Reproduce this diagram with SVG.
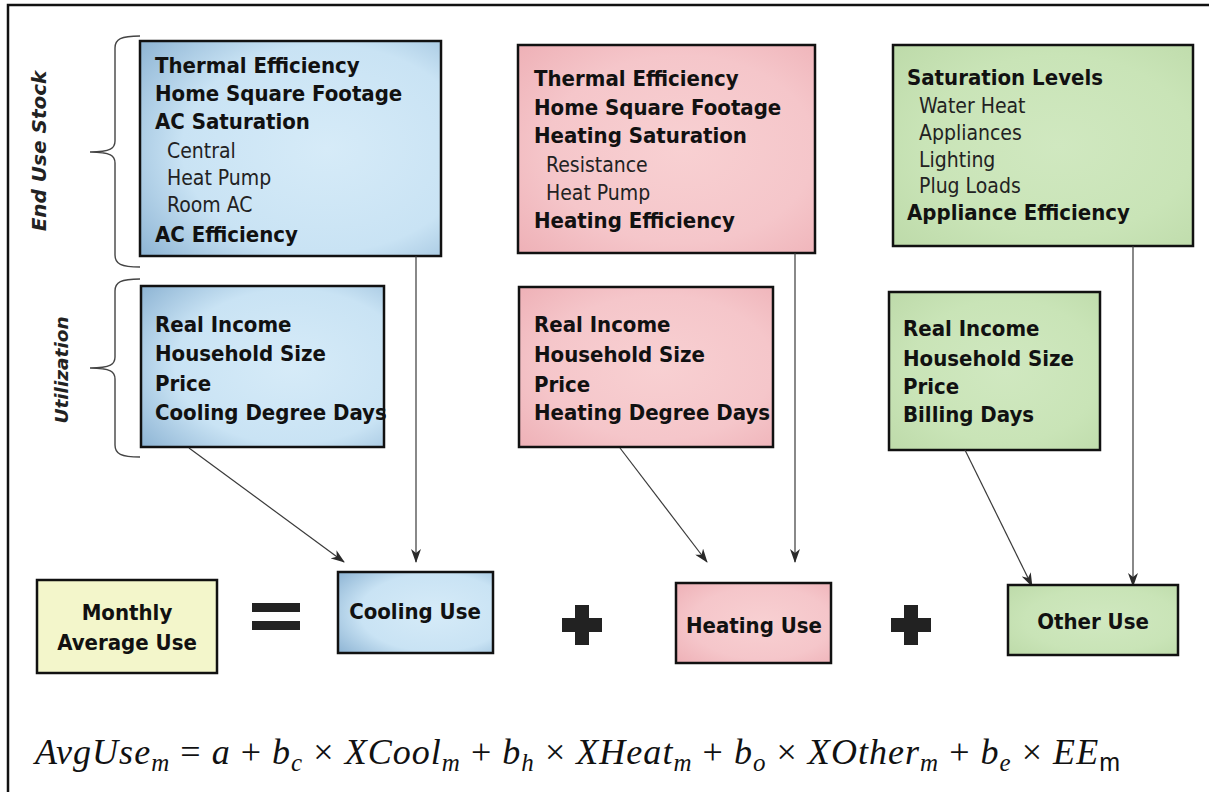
<svg xmlns="http://www.w3.org/2000/svg" width="1209" height="792" viewBox="0 0 1209 792">
<style>
.b{font-family:"DejaVu Sans Condensed","DejaVu Sans",sans-serif;font-weight:bold;font-size:22px;fill:#111}
.r{font-family:"DejaVu Sans Condensed","DejaVu Sans",sans-serif;font-size:21px;fill:#222}
.box{stroke:#111;stroke-width:2.5}
.lbl{font-family:"DejaVu Sans",Verdana,sans-serif;font-weight:bold;font-style:italic;fill:#222}
.con{stroke:#3a3a3a;stroke-width:1.2;fill:none}
.brace{stroke:#444;stroke-width:1.4;fill:none}
.f{font-family:"Liberation Serif","Times New Roman",serif;font-size:36px;font-style:italic;fill:#111}
.up{font-style:normal}
.s{font-size:25px}
</style>
<defs>
<radialGradient id="gBlue" cx="62%" cy="50%" r="80%">
<stop offset="0" stop-color="#d6ebf8"/>
<stop offset="0.6" stop-color="#c9e3f4"/>
<stop offset="1" stop-color="#8cb3d3"/>
</radialGradient>
<radialGradient id="gPink" cx="55%" cy="50%" r="75%">
<stop offset="0" stop-color="#f8d0d2"/>
<stop offset="0.6" stop-color="#f5c6ca"/>
<stop offset="1" stop-color="#eeb0b6"/>
</radialGradient>
<radialGradient id="gGreen" cx="55%" cy="50%" r="75%">
<stop offset="0" stop-color="#d0e8c0"/>
<stop offset="0.6" stop-color="#c9e4b7"/>
<stop offset="1" stop-color="#bddaa9"/>
</radialGradient>
<marker id="ah" viewBox="0 0 14 10" refX="13" refY="5" markerWidth="14" markerHeight="10" markerUnits="userSpaceOnUse" orient="auto">
<path d="M0,0 L14,5 L0,10 L4,5 Z" fill="#2a2a2a"/>
</marker>
</defs>
<rect width="1209" height="792" fill="#fff"/>
<path d="M8,792 L8,5 L1209,5" stroke="#111" stroke-width="2.5" fill="none"/>

<g id="label-enduse">
<path class="brace" d="M140,36 C121,36 115,39 115,48 L115,141 C115,148 111,152 90,152 C111,152 115,156 115,163 L115,255 C115,264 121,267 140,267"/>
<text class="lbl" font-size="20" text-anchor="middle" transform="translate(46,151) rotate(-90)">End Use Stock</text>
</g>
<g id="label-utilization">
<path class="brace" d="M140,279 C121,279 115,282 115,291 L115,357 C115,364 111,368 90,368 C111,368 115,372 115,379 L115,445 C115,454 121,457 140,457"/>
<text class="lbl" font-size="18.5" text-anchor="middle" transform="translate(68,370) rotate(-90)">Utilization</text>
</g>

<g id="cool-stock">
<rect class="box" x="140" y="41" width="301" height="215" fill="url(#gBlue)"/>
<text class="b" x="155" y="73">Thermal Efficiency</text>
<text class="b" x="155" y="101">Home Square Footage</text>
<text class="b" x="155" y="129">AC Saturation</text>
<text class="r" x="167" y="158">Central</text>
<text class="r" x="167" y="185">Heat Pump</text>
<text class="r" x="167" y="212">Room AC</text>
<text class="b" x="155" y="242">AC Efficiency</text>
</g>
<g id="heat-stock">
<rect class="box" x="518" y="45" width="297" height="208" fill="url(#gPink)"/>
<text class="b" x="534" y="86">Thermal Efficiency</text>
<text class="b" x="534" y="115">Home Square Footage</text>
<text class="b" x="534" y="143">Heating Saturation</text>
<text class="r" x="546" y="172">Resistance</text>
<text class="r" x="546" y="200">Heat Pump</text>
<text class="b" x="534" y="228">Heating Efficiency</text>
</g>
<g id="other-stock">
<rect class="box" x="893" y="45" width="300" height="201" fill="url(#gGreen)"/>
<text class="b" x="907" y="85">Saturation Levels</text>
<text class="r" x="919" y="113">Water Heat</text>
<text class="r" x="919" y="140">Appliances</text>
<text class="r" x="919" y="167">Lighting</text>
<text class="r" x="919" y="193">Plug Loads</text>
<text class="b" x="907" y="220">Appliance Efficiency</text>
</g>

<g id="cool-util">
<rect class="box" x="141" y="286" width="243" height="161" fill="url(#gBlue)"/>
<text class="b" x="155" y="332">Real Income</text>
<text class="b" x="155" y="361">Household Size</text>
<text class="b" x="155" y="391">Price</text>
<text class="b" x="155" y="420">Cooling Degree Days</text>
</g>
<g id="heat-util">
<rect class="box" x="519" y="287" width="254" height="160" fill="url(#gPink)"/>
<text class="b" x="534" y="332">Real Income</text>
<text class="b" x="534" y="362">Household Size</text>
<text class="b" x="534" y="392">Price</text>
<text class="b" x="534" y="420">Heating Degree Days</text>
</g>
<g id="other-util">
<rect class="box" x="889" y="292" width="211" height="158" fill="url(#gGreen)"/>
<text class="b" x="903" y="336">Real Income</text>
<text class="b" x="903" y="366">Household Size</text>
<text class="b" x="903" y="394">Price</text>
<text class="b" x="903" y="422">Billing Days</text>
</g>

<g id="connectors">
<line class="con" x1="189" y1="448" x2="344" y2="562" marker-end="url(#ah)"/>
<line class="con" x1="416" y1="256" x2="416" y2="562" marker-end="url(#ah)"/>
<line class="con" x1="620" y1="448" x2="707" y2="562" marker-end="url(#ah)"/>
<line class="con" x1="795" y1="253" x2="795" y2="562" marker-end="url(#ah)"/>
<line class="con" x1="965" y1="450" x2="1032" y2="586" marker-end="url(#ah)"/>
<line class="con" x1="1133" y1="246" x2="1133" y2="586" marker-end="url(#ah)"/>
</g>

<g id="monthly-use">
<rect class="box" x="37" y="580" width="180" height="93" fill="#f3f6cb"/>
<text class="b" x="127" y="620" text-anchor="middle">Monthly</text>
<text class="b" x="127" y="650" text-anchor="middle">Average Use</text>
</g>
<g id="equals">
<rect x="252" y="603" width="48" height="9" fill="#222"/>
<rect x="252" y="621" width="48" height="9" fill="#222"/>
</g>
<g id="cooling-use">
<rect class="box" x="338" y="572" width="155" height="81" fill="url(#gBlue)"/>
<text class="b" x="415" y="619" text-anchor="middle">Cooling Use</text>
</g>
<g id="plus1">
<rect x="562" y="618" width="40" height="14" fill="#222"/>
<rect x="575" y="605" width="14" height="40" fill="#222"/>
</g>
<g id="heating-use">
<rect class="box" x="676" y="583" width="155" height="80" fill="url(#gPink)"/>
<text class="b" x="754" y="633" text-anchor="middle">Heating Use</text>
</g>
<g id="plus2">
<rect x="891" y="618" width="40" height="14" fill="#222"/>
<rect x="904" y="605" width="14" height="40" fill="#222"/>
</g>
<g id="other-use">
<rect class="box" x="1008" y="585" width="170" height="70" fill="url(#gGreen)"/>
<text class="b" x="1093" y="629" text-anchor="middle">Other Use</text>
</g>

<g id="formula">
<text class="f" x="35" y="764" textLength="1085" lengthAdjust="spacing">AvgUse<tspan class="s" dy="7">m</tspan><tspan class="up" dy="-7"> = </tspan>a<tspan class="up"> + </tspan>b<tspan class="s" dy="7">c</tspan><tspan class="up" dy="-7"> × </tspan>XCool<tspan class="s" dy="7">m</tspan><tspan class="up" dy="-7"> + </tspan>b<tspan class="s" dy="7">h</tspan><tspan class="up" dy="-7"> × </tspan>XHeat<tspan class="s" dy="7">m</tspan><tspan class="up" dy="-7"> + </tspan>b<tspan class="s" dy="7">o</tspan><tspan class="up" dy="-7"> × </tspan>XOther<tspan class="s" dy="7">m</tspan><tspan class="up" dy="-7"> + </tspan>b<tspan class="s" dy="7">e</tspan><tspan class="up" dy="-7"> × </tspan>EE<tspan class="s up" dy="7" font-family="Liberation Sans,sans-serif">m</tspan></text>
</g>
</svg>
